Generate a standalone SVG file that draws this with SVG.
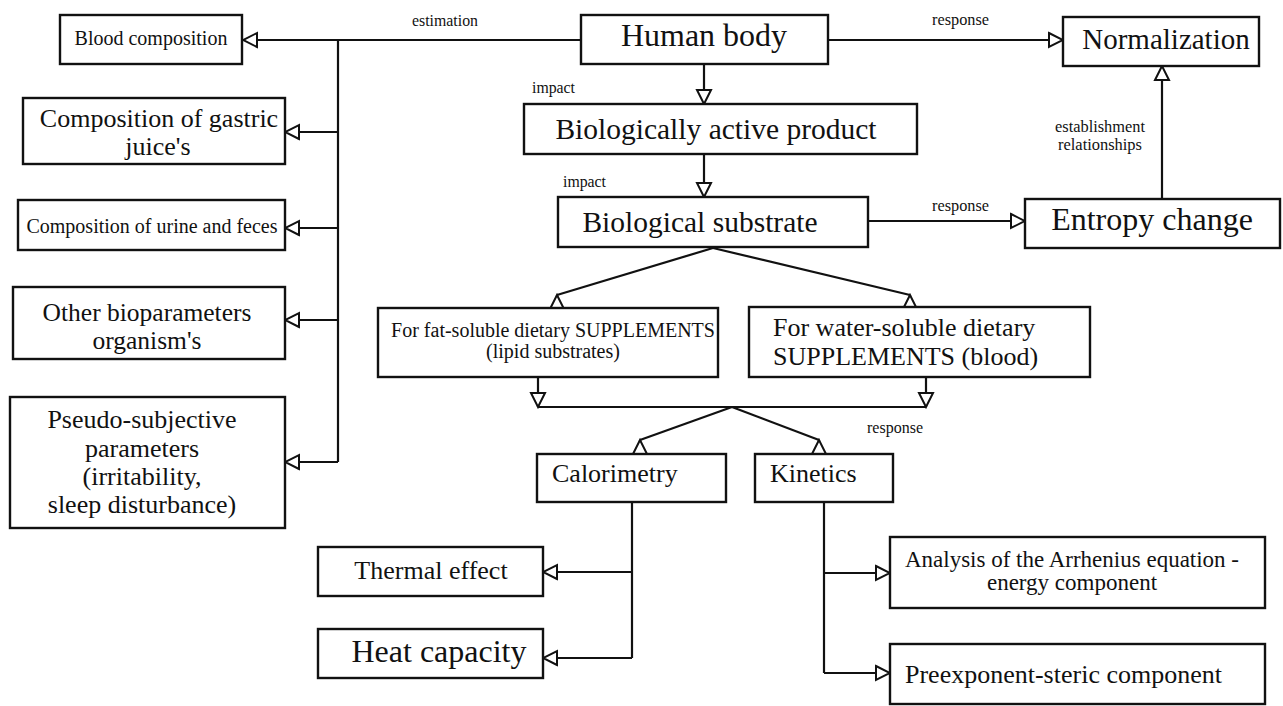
<svg xmlns="http://www.w3.org/2000/svg" width="1283" height="706" viewBox="0 0 1283 706">
  <defs>
    <style>
      .box { fill: #fff; stroke: #111; stroke-width: 2.4; }
      .ln { fill: none; stroke: #111; stroke-width: 2.2; }
      text { font-family: "Liberation Serif", "Times New Roman", serif; fill: #111; }
      .c { text-anchor: middle; }
      .lbl { font-size: 17px; }
    </style>
    <!-- open triangular head, follows the line direction -->
    <marker id="tri" markerUnits="userSpaceOnUse" viewBox="-2 -2 18 18" markerWidth="18" markerHeight="18" refX="14" refY="7" orient="auto">
      <path d="M0,0 L14,7 L0,14 Z" fill="#fff" stroke="#111" stroke-width="2"/>
    </marker>
    <!-- same head, always pointing up (for the slanted branches) -->
    <marker id="triUp" markerUnits="userSpaceOnUse" viewBox="-2 -2 18 18" markerWidth="18" markerHeight="18" refX="14" refY="7" orient="270">
      <path d="M0,0 L14,7 L0,14 Z" fill="#fff" stroke="#111" stroke-width="2"/>
    </marker>
  </defs>

  <rect width="1283" height="706" fill="#fff"/>

  <g id="connectors">
    <!-- Human body fan-out to the left -->
    <line class="ln" x1="581" y1="40" x2="243" y2="40" marker-end="url(#tri)"/>
    <line class="ln" x1="338" y1="40" x2="338" y2="462"/>
    <line class="ln" x1="338" y1="132" x2="285" y2="132" marker-end="url(#tri)"/>
    <line class="ln" x1="338" y1="228" x2="285" y2="228" marker-end="url(#tri)"/>
    <line class="ln" x1="338" y1="320" x2="285" y2="320" marker-end="url(#tri)"/>
    <line class="ln" x1="338" y1="462" x2="285" y2="462" marker-end="url(#tri)"/>
    <!-- main vertical chain -->
    <line class="ln" x1="828" y1="40" x2="1063" y2="40" marker-end="url(#tri)"/>
    <line class="ln" x1="704" y1="64" x2="704" y2="104" marker-end="url(#tri)"/>
    <line class="ln" x1="704" y1="154" x2="704" y2="197" marker-end="url(#tri)"/>
    <line class="ln" x1="868" y1="221" x2="1025" y2="221" marker-end="url(#tri)"/>
    <line class="ln" x1="1162" y1="199" x2="1162" y2="66" marker-end="url(#tri)"/>
    <!-- substrate split -->
    <line class="ln" x1="713" y1="248" x2="557" y2="295"/>
    <line class="ln" x1="713" y1="248" x2="910" y2="295"/>
    <line class="ln" x1="557" y1="309" x2="557" y2="295" marker-end="url(#triUp)"/>
    <line class="ln" x1="910" y1="309" x2="910" y2="295" marker-end="url(#triUp)"/>
    <line class="ln" x1="538" y1="377" x2="538" y2="407" marker-end="url(#tri)"/>
    <line class="ln" x1="926" y1="377" x2="926" y2="407" marker-end="url(#tri)"/>
    <line class="ln" x1="538" y1="407" x2="926" y2="407"/>
    <line class="ln" x1="732" y1="407" x2="640" y2="440"/>
    <line class="ln" x1="732" y1="407" x2="819" y2="440"/>
    <line class="ln" x1="640" y1="454" x2="640" y2="440" marker-end="url(#triUp)"/>
    <line class="ln" x1="819" y1="454" x2="819" y2="440" marker-end="url(#triUp)"/>
    <!-- calorimetry branch -->
    <line class="ln" x1="632" y1="502" x2="632" y2="658"/>
    <line class="ln" x1="632" y1="572" x2="543" y2="572" marker-end="url(#tri)"/>
    <line class="ln" x1="632" y1="658" x2="543" y2="658" marker-end="url(#tri)"/>
    <!-- kinetics branch -->
    <line class="ln" x1="824" y1="502" x2="824" y2="673"/>
    <line class="ln" x1="824" y1="573" x2="890" y2="573" marker-end="url(#tri)"/>
    <line class="ln" x1="824" y1="673" x2="890" y2="673" marker-end="url(#tri)"/>

    <!-- connector labels -->
    <text class="lbl" x="412" y="26" textLength="66" lengthAdjust="spacingAndGlyphs">estimation</text>
    <text class="lbl" x="932" y="25" textLength="57" lengthAdjust="spacingAndGlyphs">response</text>
    <text class="lbl" x="532" y="93" textLength="43" lengthAdjust="spacingAndGlyphs">impact</text>
    <text class="lbl" x="563" y="187" textLength="43" lengthAdjust="spacingAndGlyphs">impact</text>
    <text class="lbl" x="932" y="211" textLength="57" lengthAdjust="spacingAndGlyphs">response</text>
    <text class="lbl" x="1055" y="132" textLength="90" lengthAdjust="spacingAndGlyphs">establishment</text>
    <text class="lbl" x="1058" y="150" textLength="84" lengthAdjust="spacingAndGlyphs">relationships</text>
    <text class="lbl" x="867" y="433" textLength="56" lengthAdjust="spacingAndGlyphs">response</text>
  </g>

  <g id="blood-composition">
    <rect class="box" x="60" y="15" width="182" height="49"/>
    <text class="c" x="151" y="45" font-size="20">Blood composition</text>
  </g>
  <g id="gastric-juice">
    <rect class="box" x="23" y="98" width="262" height="66"/>
    <text class="c" x="159" y="127" font-size="26">Composition of gastric</text>
    <text class="c" x="158" y="155" font-size="26">juice's</text>
  </g>
  <g id="urine-feces">
    <rect class="box" x="18" y="200" width="267" height="50"/>
    <text class="c" x="152" y="233" font-size="20">Composition of urine and feces</text>
  </g>
  <g id="other-bioparameters">
    <rect class="box" x="13" y="287" width="272" height="72"/>
    <text class="c" x="147" y="321" font-size="25.5">Other bioparameters</text>
    <text class="c" x="147" y="349" font-size="25.5">organism's</text>
  </g>
  <g id="pseudo-subjective">
    <rect class="box" x="10" y="397" width="275" height="131"/>
    <text class="c" x="142" y="428" font-size="26">Pseudo-subjective</text>
    <text class="c" x="142" y="457" font-size="26">parameters</text>
    <text class="c" x="142" y="485" font-size="26">(irritability,</text>
    <text class="c" x="142" y="513" font-size="26">sleep disturbance)</text>
  </g>

  <g id="human-body">
    <rect class="box" x="581" y="15" width="247" height="49"/>
    <text class="c" x="704" y="46" font-size="32">Human body</text>
  </g>
  <g id="normalization">
    <rect class="box" x="1063" y="17" width="196" height="49"/>
    <text class="c" x="1166" y="49" font-size="29">Normalization</text>
  </g>
  <g id="active-product">
    <rect class="box" x="524" y="104" width="393" height="50"/>
    <text class="c" x="716" y="139" font-size="29.5">Biologically active product</text>
  </g>
  <g id="substrate">
    <rect class="box" x="558" y="197" width="310" height="50"/>
    <text class="c" x="700" y="232" font-size="29.5">Biological substrate</text>
  </g>
  <g id="entropy-change">
    <rect class="box" x="1025" y="199" width="255" height="49"/>
    <text class="c" x="1152" y="230" font-size="32">Entropy change</text>
  </g>

  <g id="fat-soluble">
    <rect class="box" x="378" y="308" width="340" height="69"/>
    <text class="c" x="553" y="337" font-size="20">For fat-soluble dietary SUPPLEMENTS</text>
    <text class="c" x="553" y="358" font-size="20">(lipid substrates)</text>
  </g>
  <g id="water-soluble">
    <rect class="box" x="749" y="307" width="341" height="70"/>
    <text x="773" y="336" font-size="26">For water-soluble dietary</text>
    <text x="773" y="365" font-size="26">SUPPLEMENTS (blood)</text>
  </g>

  <g id="calorimetry">
    <rect class="box" x="537" y="454" width="189" height="48"/>
    <text x="552" y="482" font-size="26">Calorimetry</text>
  </g>
  <g id="kinetics">
    <rect class="box" x="755" y="454" width="138" height="48"/>
    <text x="770" y="482" font-size="26">Kinetics</text>
  </g>

  <g id="thermal-effect">
    <rect class="box" x="318" y="547" width="225" height="49"/>
    <text class="c" x="431" y="579" font-size="26">Thermal effect</text>
  </g>
  <g id="heat-capacity">
    <rect class="box" x="318" y="629" width="225" height="49"/>
    <text class="c" x="439" y="662" font-size="32">Heat capacity</text>
  </g>

  <g id="arrhenius">
    <rect class="box" x="890" y="537" width="375" height="71"/>
    <text class="c" x="1072" y="567" font-size="23">Analysis of the Arrhenius equation -</text>
    <text class="c" x="1072" y="590" font-size="23">energy component</text>
  </g>
  <g id="preexponent">
    <rect class="box" x="890" y="644" width="375" height="60"/>
    <text x="905" y="683" font-size="26">Preexponent-steric component</text>
  </g>
</svg>
